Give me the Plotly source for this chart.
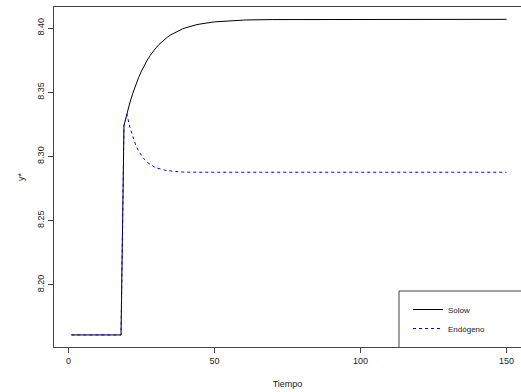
import plotly.graph_objects as go

tiempo = list(range(1, 151))

solow = ([8.161] * 18 +
         [8.3240, 8.3334, 8.3417, 8.3490, 8.3556, 8.3614, 8.3665, 8.3711, 8.3751, 8.3787,
          8.3819, 8.3847, 8.3872, 8.3894, 8.3914, 8.3931, 8.3947, 8.3960, 8.3973, 8.3983,
          8.3993, 8.4001, 8.4009, 8.4016, 8.4022, 8.4027, 8.4031, 8.4036, 8.4039, 8.4042,
          8.4045, 8.4048, 8.4050, 8.4052, 8.4054, 8.4056, 8.4057, 8.4058, 8.4059, 8.4060,
          8.4061, 8.4062, 8.4063, 8.4064, 8.4064, 8.4064, 8.4065, 8.4065, 8.4065, 8.4065,
          8.4066, 8.4066, 8.4066, 8.4066, 8.4066, 8.4066, 8.4067, 8.4067, 8.4067, 8.4067,
          8.4067, 8.4067, 8.4067, 8.4067, 8.4067] +
         [8.4068] * 67)

endogeno = ([8.161] * 18 +
            [8.3240, 8.3330, 8.3229, 8.3151, 8.3090, 8.3042, 8.3005, 8.2977, 8.2954, 8.2937,
             8.2923, 8.2912, 8.2904, 8.2898, 8.2893, 8.2889, 8.2886, 8.2883, 8.2881, 8.2880,
             8.2879, 8.2878] +
            [8.2877] * 110)

ytick_vals = [8.20, 8.25, 8.30, 8.35, 8.40]
xtick_vals = [0, 50, 100, 150]

FONT = "Liberation Sans, Arial, sans-serif"
AX = "#444444"

fig = go.Figure()
fig.add_trace(go.Scatter(x=tiempo, y=solow, mode="lines", name="Solow",
                         line=dict(color="black", width=1)))
fig.add_trace(go.Scatter(x=tiempo, y=endogeno, mode="lines", name="Endógeno",
                         line=dict(color="#0000FF", width=1, dash="3px,3px")))

L, R, T, B = 54, 0, 7, 45
W, H = 521, 392
pw = W - L - R
ph = H - T - B

def px_x(p):
    return (p - L) / pw

def px_y(p):
    return 1 - (p - T) / ph

fig.update_layout(
    width=W, height=H,
    margin=dict(l=L, r=R, t=T, b=B, pad=0, autoexpand=False),
    paper_bgcolor="white", plot_bgcolor="white",
    font=dict(family=FONT, size=9, color="#222222"),
    showlegend=True,
    legend=dict(x=px_x(408), y=px_y(295), xanchor="left", yanchor="top",
                bgcolor="rgba(0,0,0,0)", borderwidth=0,
                font=dict(family=FONT, size=8, color="#222222")),
    xaxis=dict(range=[-4.96, -4.96 + pw / 2.92], tickvals=xtick_vals,
               showgrid=False, zeroline=False, showline=True, linecolor=AX,
               linewidth=1, mirror=True, ticks="outside", ticklen=5,
               tickcolor=AX, tickfont=dict(size=9), automargin=False,
               title=dict(text="Tiempo", standoff=15, font=dict(size=9))),
    yaxis=dict(range=[8.1516, 8.4164], tickvals=ytick_vals, tickformat=".2f",
               tickangle=-90, showgrid=False, zeroline=False, showline=True,
               linecolor=AX, linewidth=1, mirror=False, ticks="outside",
               ticklen=5, tickcolor=AX, tickfont=dict(size=9), automargin=False,
               title=dict(text="y*", standoff=10, font=dict(size=9))),
    shapes=[
        dict(type="line", xref="paper", yref="paper",
             x0=px_x(399), x1=px_x(399), y0=0, y1=px_y(291),
             line=dict(color=AX, width=1)),
        dict(type="line", xref="paper", yref="paper",
             x0=px_x(399), x1=1, y0=px_y(291), y1=px_y(291),
             line=dict(color=AX, width=1)),
    ],
)

fig.write_html(
    "out.html",
    config={"displayModeBar": False},
    post_script="document.body.style.margin='0';document.body.style.overflow='hidden';",
)
